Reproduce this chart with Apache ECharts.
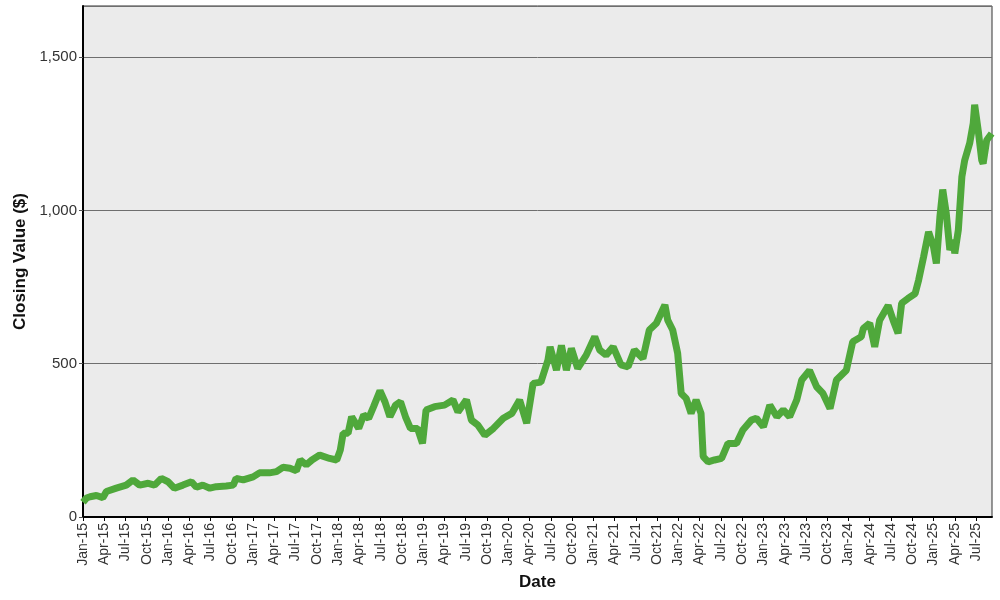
<!DOCTYPE html>
<html>
<head>
<meta charset="utf-8">
<script src="https://cdn.jsdelivr.net/npm/echarts@6/dist/echarts.min.js"></script>
<style>
html,body{margin:0;padding:0;background:#fff;}
#c{width:1000px;height:600px;}
</style>
</head>
<body>
<div id="c"></div>
<script>
// x position: months since Jan 2015 (0 = Jan-15)
const monthIdx = [0,0.5,1,1.9,2.8,3.3,4.7,6.1,7.05,8,9.2,10.1,11.05,12,12.9,14.1,15.3,16,16.9,17.9,18.8,20.2,21.2,21.6,22.6,24,24.9,26.3,27.3,28.2,29.2,30.1,30.65,31.5,32.3,33.4,34.8,35.8,36.3,36.7,37.4,37.9,38.9,39.6,40.3,41.0,41.9,42.6,43.3,44.1,44.8,45.5,46.2,47.2,47.9,48.4,49.6,51.0,52.2,52.9,54.1,54.8,55.7,56.7,57.9,59.3,60.5,61.6,62.6,63.5,64.6,65.6,65.9,66.8,67.5,68.2,68.9,69.8,71.0,72.2,72.9,73.8,74.8,75.9,76.9,77.8,79.0,79.9,80.9,82.1,82.5,83.2,83.9,84.4,85.1,85.8,86.5,87.2,87.5,88.2,89.1,90.1,91.0,92.2,93.1,94.3,95.0,96.0,96.9,97.9,98.8,99.7,100.7,101.4,102.5,103.5,104.4,105.4,106.3,107.7,108.6,109.8,110.1,111.0,111.7,112.4,113.6,114.3,115.0,115.5,116.4,117.4,117.9,118.6,119.3,120.0,120.4,120.9,121.3,121.8,122.3,122.8,123.0,123.5,124.0,124.4,125.1,125.6,125.8,126.3,126.8,127.0,127.5,128.2];
const closeValue = [48,62,66,70,63,83,94,104,121,104,110,104,126,115,94,104,115,97,104,94,99,101,104,126,121,131,144,144,148,162,159,151,186,170,186,202,191,186,218,273,273,327,289,333,322,360,412,376,327,365,376,327,289,289,240,349,360,365,382,343,382,316,300,267,289,322,338,382,306,436,440,512,555,479,560,479,550,485,528,588,545,528,555,496,490,545,517,610,632,692,642,610,534,403,387,338,382,338,197,180,186,191,240,240,284,316,322,294,365,327,349,327,382,447,478,425,403,354,447,479,572,588,615,632,555,642,690,642,599,697,713,729,773,849,930,881,827,979,1068,990,871,903,860,936,1110,1164,1219,1284,1345,1262,1164,1153,1229,1251];
const monthNames = ['Jan','Apr','Jul','Oct'];
const yTicks = [0,500,1000,1500];

const data = monthIdx.map((m,i)=>[m, closeValue[i]]);
const chart = echarts.init(document.getElementById('c'));
const FONT = '"Liberation Sans", Arial, sans-serif';
chart.setOption({
  animation:false,
  grid:{left:83,right:8,top:6,bottom:83,show:true,backgroundColor:'#ebebeb',borderColor:'#333',borderWidth:1},
  xAxis:{
    type:'value',min:0,max:128.25,interval:3,
    name:'Date',nameLocation:'middle',nameGap:57,
    nameTextStyle:{fontFamily:FONT,fontSize:17,fontWeight:'bold',color:'#111'},
    axisLine:{show:true,lineStyle:{color:'#000',width:2}},
    axisTick:{show:true,length:4,lineStyle:{color:'#000'}},
    splitLine:{show:false},
    axisLabel:{rotate:90,fontFamily:FONT,fontSize:14,color:'#333',margin:6,showMaxLabel:false,
      formatter:v=>{ if(Math.abs(v%3)>1e-6) return ''; const q=Math.round(v/3); return monthNames[q%4]+'-'+String(15+Math.floor(q/4)); }}
  },
  yAxis:{
    type:'value',min:0,max:1667,interval:500,
    name:'Closing Value ($)',nameLocation:'middle',nameGap:49,
    nameTextStyle:{fontFamily:FONT,fontSize:17,fontWeight:'bold',color:'#111'},
    axisLine:{show:true,lineStyle:{color:'#000',width:2}},
    axisTick:{show:true,length:4,lineStyle:{color:'#555'}},
    splitLine:{show:true,lineStyle:{color:'#6e6e6e',width:1}},
    axisLabel:{fontFamily:FONT,fontSize:15,color:'#333',margin:6,showMaxLabel:false,
      formatter:v=> yTicks.indexOf(v)>=0 ? v.toLocaleString('en-US') : ''}
  },
  series:[{
    type:'line',data:data,showSymbol:false,symbol:'none',
    lineStyle:{color:'#4fa83b',width:7,join:'bevel'},
    itemStyle:{color:'#4fa83b'}
  }]
});
</script>
</body>
</html>
